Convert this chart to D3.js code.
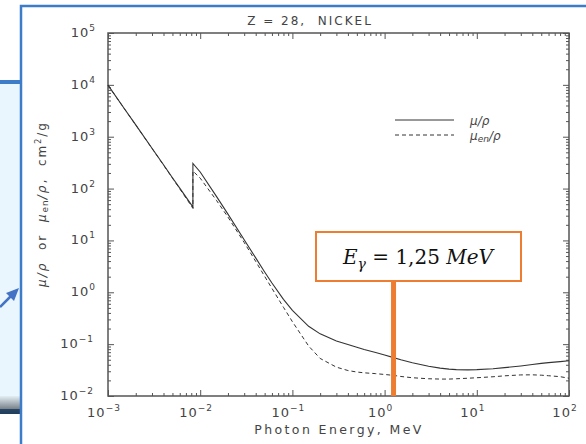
<!DOCTYPE html>
<html>
<head>
<meta charset="utf-8">
<script src="https://cdn.jsdelivr.net/npm/d3@7"></script>
<style>
  body { margin: 0; background: #fff; }
  svg { display: block; }
  .lbl { font-family: "DejaVu Sans", sans-serif; fill: #444; }
</style>
</head>
<body>
<div id="chart"></div>
<script>
// photon energy, MeV (K edge appears twice)
const energy = [1e-3, 1.5e-3, 2e-3, 3e-3, 4e-3, 5e-3, 6e-3, 8e-3, 8.333e-3, 8.333e-3,
  1e-2, 1.5e-2, 2e-2, 3e-2, 4e-2, 5e-2, 6e-2, 8e-2, 0.1, 0.15, 0.2, 0.3, 0.4, 0.5,
  0.6, 0.8, 1, 1.25, 1.5, 2, 3, 4, 5, 6, 8, 10, 15, 20, 30, 40, 50, 60, 80, 100];
// mu/rho, cm2/g
const muRho = [9855, 3500, 1690, 600, 288, 162, 102, 49, 44, 305,
  209, 70.8, 32.2, 10.3, 4.6, 2.47, 1.51, 0.73, 0.45, 0.221, 0.158, 0.115, 0.098, 0.087,
  0.079, 0.069, 0.0616, 0.0549, 0.050, 0.0438, 0.0374, 0.0345, 0.033, 0.0323, 0.0319, 0.0322, 0.0336, 0.0352, 0.038, 0.0405, 0.0425, 0.044, 0.046, 0.048];
// mu_en/rho, cm2/g
const muEnRho = [9836, 3490, 1680, 595, 284, 159, 99, 46.5, 41.5, 218,
  159, 59.3, 28.2, 9.13, 3.94, 2.03, 1.19, 0.514, 0.271, 0.092, 0.053, 0.036, 0.031, 0.029,
  0.028, 0.027, 0.026, 0.025, 0.0238, 0.0225, 0.0215, 0.0212, 0.0212, 0.0215, 0.022, 0.0225, 0.0235, 0.0245, 0.0255, 0.0256, 0.0252, 0.0246, 0.0236, 0.022];
const xTickExp = [-3, -2, -1, 0, 1, 2];
const yTickExp = [-2, -1, 0, 1, 2, 3, 4, 5];
const markEnergy = 1.25;

const W = 586, H = 444;
const svg = d3.select('#chart').append('svg').attr('width', W).attr('height', H);

// slide decoration on the left
svg.append('rect').attr('x', 0).attr('y', 84).attr('width', 20).attr('height', 314).attr('fill', '#eaf6fd');
const grad = svg.append('defs').append('linearGradient').attr('id', 'g1').attr('x1', 0).attr('x2', 0).attr('y1', 0).attr('y2', 1);
grad.append('stop').attr('offset', '0%').attr('stop-color', '#e4eef5');
grad.append('stop').attr('offset', '70%').attr('stop-color', '#7c848c');
grad.append('stop').attr('offset', '72%').attr('stop-color', '#2a4866');
grad.append('stop').attr('offset', '100%').attr('stop-color', '#1f3d5c');
svg.append('rect').attr('x', 0).attr('y', 396).attr('width', 20).attr('height', 18).attr('fill', 'url(#g1)');
svg.append('line').attr('x1', 0).attr('x2', 21).attr('y1', 82).attr('y2', 82)
  .attr('stroke', '#3d7cc9').attr('stroke-width', 4);
svg.append('line').attr('x1', 0).attr('y1', 307).attr('x2', 11).attr('y2', 296)
  .attr('stroke', '#4472c4').attr('stroke-width', 2.5);
svg.append('path').attr('d', 'M19,288 L6,293 L14,301 Z').attr('fill', '#4472c4');

// blue frame
svg.append('rect').attr('x', 21).attr('y', 6).attr('width', 600).attr('height', 460)
  .attr('fill', '#fff').attr('stroke', '#3d7cc9').attr('stroke-width', 2.5);

const x = d3.scaleLog().domain([1e-3, 1e2]).range([108, 569]);
const y = d3.scaleLog().domain([1e-2, 1e5]).range([396, 33]);

const majorX = xTickExp.map(e => Math.pow(10, e));
const majorY = yTickExp.map(e => Math.pow(10, e));
const minorOf = (majors) => {
  const out = [];
  majors.slice(0, -1).forEach(m => { for (let k = 2; k <= 9; k++) out.push(m * k); });
  return out;
};
const minorX = minorOf(majorX), minorY = minorOf(majorY);

function drawAxis(axisFn, scale, major, minor, transform) {
  [[major, 6], [minor, 3]].forEach(([vals, len]) => {
    const g = svg.append('g').attr('transform', transform)
      .call(axisFn(scale).tickValues(vals).tickSize(-len).tickFormat(''));
    g.select('.domain').remove();
    g.selectAll('line').attr('stroke', '#555').attr('stroke-width', 1);
  });
}
drawAxis(d3.axisBottom, x, majorX, minorX, 'translate(0,396)');
drawAxis(d3.axisTop, x, majorX, minorX, 'translate(0,33)');
drawAxis(d3.axisLeft, y, majorY, minorY, 'translate(108,0)');
drawAxis(d3.axisRight, y, majorY, minorY, 'translate(569,0)');

svg.append('rect').attr('x', 108).attr('y', 33).attr('width', 461).attr('height', 363)
  .attr('fill', 'none').attr('stroke', '#555').attr('stroke-width', 1.5);

// tick labels
const fmtExp = e => (e < 0 ? '\u2212' + (-e) : String(e));
const xl = svg.append('g').selectAll('text').data(xTickExp).join('text')
  .attr('class', 'lbl').attr('x', d => x(Math.pow(10, d)) - 4).attr('y', 417)
  .attr('text-anchor', 'middle').style('font-size', '13px').style('letter-spacing', '1px');
xl.append('tspan').text('10');
xl.append('tspan').attr('dy', -6).style('font-size', '9px').text(d => fmtExp(d));

const yl = svg.append('g').selectAll('text').data(yTickExp).join('text')
  .attr('class', 'lbl').attr('x', d => d < 0 ? 94 : 96).attr('y', d => y(Math.pow(10, d)) + 4)
  .attr('text-anchor', 'end').style('font-size', '13px').style('letter-spacing', '1px');
yl.append('tspan').text('10');
yl.append('tspan').attr('dy', -6).style('font-size', '9px').text(d => fmtExp(d));

// curves
const pts = (vals) => energy.map((e, i) => [e, vals[i]]);
const line = d3.line().x(d => x(d[0])).y(d => y(d[1]));
svg.append('path').attr('d', line(pts(muEnRho))).attr('fill', 'none')
  .attr('stroke', '#333').attr('stroke-width', 1).attr('stroke-dasharray', '4,3');
svg.append('path').attr('d', line(pts(muRho))).attr('fill', 'none')
  .attr('stroke', '#333').attr('stroke-width', 1.1);

// legend
svg.append('line').attr('x1', 395).attr('x2', 454).attr('y1', 120).attr('y2', 120).attr('stroke', '#333');
svg.append('line').attr('x1', 395).attr('x2', 454).attr('y1', 135).attr('y2', 135)
  .attr('stroke', '#333').attr('stroke-dasharray', '4,3');
const lg1 = svg.append('text').attr('class', 'lbl').attr('x', 470).attr('y', 125)
  .style('font-size', '12px').style('font-style', 'italic');
lg1.text('\u03bc/\u03c1');
const lg2 = svg.append('text').attr('class', 'lbl').attr('x', 470).attr('y', 140)
  .style('font-size', '12px').style('font-style', 'italic');
lg2.append('tspan').text('\u03bc');
lg2.append('tspan').attr('dy', 2).style('font-size', '9px').text('en');
lg2.append('tspan').attr('dy', -2).text('/\u03c1');

// title and axis labels
svg.append('text').attr('class', 'lbl').attr('x', 310).attr('y', 25).attr('text-anchor', 'middle')
  .style('font-size', '12px').style('letter-spacing', '2px').attr('xml:space', 'preserve')
  .text('Z = 28,  NICKEL');
svg.append('text').attr('class', 'lbl').attr('x', 339).attr('y', 434).attr('text-anchor', 'middle')
  .style('font-size', '12.5px').style('letter-spacing', '2.4px').text('Photon Energy, MeV');
const yt = svg.append('text').attr('class', 'lbl').attr('transform', 'translate(46,204) rotate(-90)')
  .attr('text-anchor', 'middle').style('font-size', '12px').style('letter-spacing', '2px')
  .attr('xml:space', 'preserve');
yt.append('tspan').style('font-style', 'italic').text('\u03bc/\u03c1');
yt.append('tspan').text('  or  ');
yt.append('tspan').style('font-style', 'italic').text('\u03bc');
yt.append('tspan').attr('dy', 2).style('font-size', '9px').style('letter-spacing', '1px').text('en');
yt.append('tspan').attr('dy', -2).style('font-style', 'italic').text('/\u03c1');
yt.append('tspan').text(',  cm');
yt.append('tspan').attr('dy', -5).style('font-size', '8px').text('2');
yt.append('tspan').attr('dy', 5).text('/g');

// highlighted energy
const mx = x(markEnergy);
svg.append('line').attr('x1', mx).attr('x2', mx).attr('y1', 281).attr('y2', y(1e-2))
  .attr('stroke', '#ed7d31').attr('stroke-width', 5);
svg.append('rect').attr('x', 316).attr('y', 232).attr('width', 205).attr('height', 49)
  .attr('fill', '#fff').attr('stroke', '#ed7d31').attr('stroke-width', 2);
const ann = svg.append('text').attr('x', 418).attr('y', 264).attr('text-anchor', 'middle')
  .style('font-family', '"DejaVu Serif", serif').style('font-size', '20px').style('fill', '#111');
ann.append('tspan').style('font-style', 'italic').text('E');
ann.append('tspan').attr('dy', 5).style('font-size', '14px').style('font-style', 'italic').text('\u03b3');
ann.append('tspan').attr('dy', -5).text(' = 1,25 ');
ann.append('tspan').style('font-style', 'italic').text('MeV');
</script>
</body>
</html>
